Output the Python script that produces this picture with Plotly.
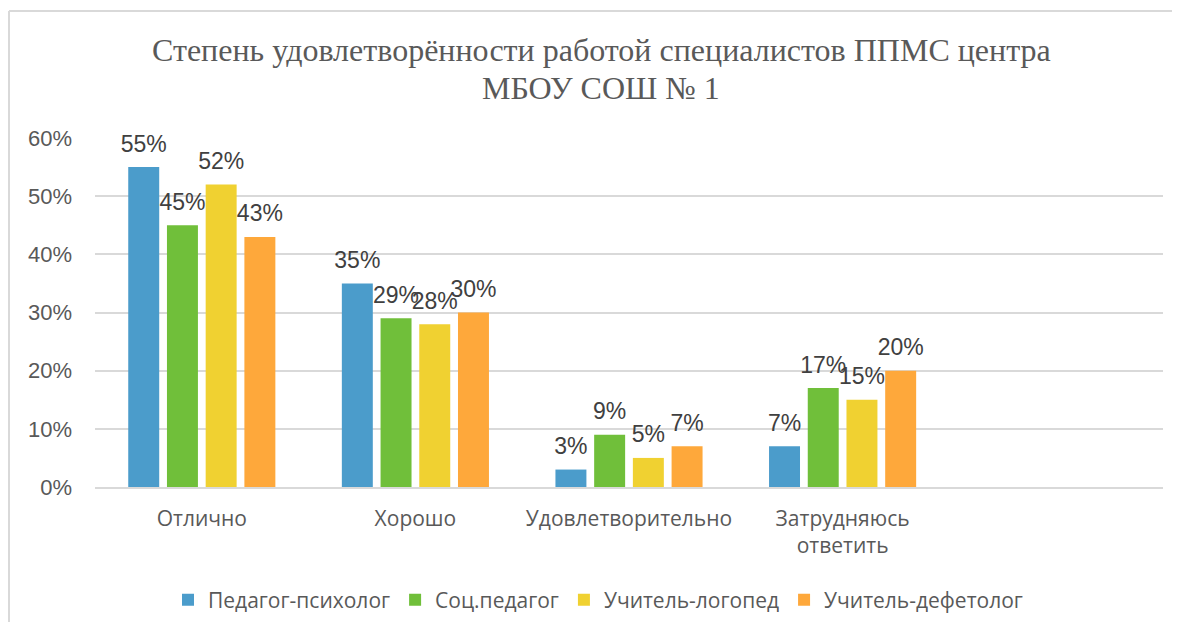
import plotly.graph_objects as go

categories = ["Отлично", "Хорошо", "Удовлетворительно", "Затрудняюсь<br>ответить"]
series_names = ["Педагог-психолог", "Соц.педагог", "Учитель-логопед", "Учитель-дефетолог"]
psycholog = [0.55, 0.35, 0.03, 0.07]
soc_pedagog = [0.45, 0.29, 0.09, 0.17]
logoped = [0.52, 0.28, 0.05, 0.15]
defectolog = [0.43, 0.30, 0.07, 0.20]
y_ticks = [0, 0.1, 0.2, 0.3, 0.4, 0.5, 0.6]
title_lines = ["Степень удовлетворённости работой специалистов ППМС центра", "МБОУ СОШ № 1"]

colors = ["#4B9CCB", "#70BF3A", "#F0D131", "#FEA83B"]
values = [psycholog, soc_pedagog, logoped, defectolog]

# page body has an 8px margin on every side; keep the figure inside the window
OFF = 8
W, H = 1180 - 2 * OFF, 630 - 2 * OFF
L, R, T, B = 95 - OFF, 1163 - OFF, 138 - OFF, 487 - OFF

fig = go.Figure()
for name, vals, col in zip(series_names, values, colors):
    fig.add_trace(go.Bar(
        x=categories, y=vals, name=name,
        marker=dict(color=col, line=dict(width=0)),
    ))
for name, vals in zip(series_names, values):
    fig.add_trace(go.Scatter(
        x=categories, y=vals, name=name, showlegend=False,
        mode="markers+text",
        marker=dict(size=14, color="rgba(0,0,0,0)"),
        text=[f"{round(v * 100)}%" for v in vals],
        textposition="top center",
        cliponaxis=False, hoverinfo="skip",
        textfont=dict(family="Liberation Sans, Arial", size=23, color="#404040"),
    ))

fig.update_layout(
    width=W, height=H,
    margin=dict(l=L, r=W - R, t=T, b=H - B),
    paper_bgcolor="white", plot_bgcolor="white",
    barmode="group", bargap=0.275, bargroupgap=0.2,
    scattermode="group", scattergap=0.275,
    xaxis=dict(
        range=[-0.5, 4.5], showgrid=False, showline=True, linecolor="#D9D9D9", linewidth=1.5,
        ticks="", tickfont=dict(family="Open Sans, Noto Sans", size=21, color="#595959"),
        ticklabelstandoff=12,
    ),
    yaxis=dict(
        range=[0, 0.6], tickvals=y_ticks, tickformat=".0%",
        showgrid=True, gridcolor="#D9D9D9", gridwidth=1.5, zeroline=False,
        tickfont=dict(family="Liberation Sans, Arial", size=22, color="#595959"),
        ticklabelstandoff=22,
    ),
    legend=dict(
        orientation="h", x=(598 - OFF) / W, xref="container", xanchor="center",
        y=1 - (600 - OFF) / H, yref="container", yanchor="middle",
        font=dict(family="Open Sans, Noto Sans", size=21, color="#595959"),
        itemwidth=30, traceorder="normal",
    ),
    showlegend=True,
)

pw, ph = R - L, B - T
for line, py in zip(title_lines, [50, 88]):
    fig.add_annotation(
        text=line, xref="paper", yref="paper",
        x=(601 - OFF - L) / pw, y=(B - (py - OFF)) / ph,
        xanchor="center", yanchor="middle", showarrow=False,
        font=dict(family="Liberation Serif, Times New Roman", size=32, color="#595959"),
    )

# chart border (top and left edges only, as in the reference)
bx = (1 - L) / pw
by = (B - (11 - OFF)) / ph
fig.add_shape(type="line", xref="paper", yref="paper",
              x0=bx, x1=(W + 20 - L) / pw, y0=by, y1=by,
              line=dict(color="#D9D9D9", width=2), layer="below")
fig.add_shape(type="line", xref="paper", yref="paper",
              x0=bx, x1=bx, y0=by, y1=(B - (H + 20)) / ph,
              line=dict(color="#D9D9D9", width=2), layer="below")

fig.write_html("out.html")
